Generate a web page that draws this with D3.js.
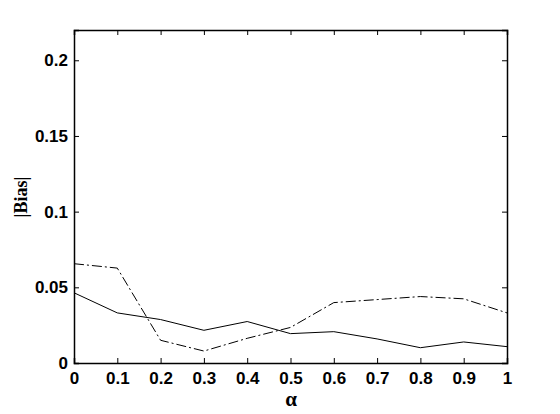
<!DOCTYPE html>
<html>
<head>
<meta charset="utf-8">
<script src="https://cdn.jsdelivr.net/npm/d3@7"></script>
<style>
  body { margin: 0; background: #fff; }
  .tick text { font-family: "Liberation Sans", Arial, sans-serif; font-weight: bold; font-size: 17px; }
</style>
</head>
<body>
<div class="content"></div>
<script>
var svgWidth = 560;
var svgHeight = 414;

// Data.
var alphas = [0, 0.1, 0.2, 0.3, 0.4, 0.5, 0.6, 0.7, 0.8, 0.9, 1];
var solidBias = [0.0464, 0.0331, 0.0287, 0.0216, 0.0274, 0.0194, 0.0207, 0.0159, 0.0101, 0.0139, 0.0108];
var dashBias = [0.0656, 0.0627, 0.0150, 0.0079, 0.0163, 0.0235, 0.0399, 0.0419, 0.0439, 0.0424, 0.0331];
var xTicks = [0, 0.1, 0.2, 0.3, 0.4, 0.5, 0.6, 0.7, 0.8, 0.9, 1];
var yTicks = [0, 0.05, 0.1, 0.15, 0.2];

var plot = {left: 74, right: 507, top: 30, bottom: 363};

var svg = d3.select(".content")
  .append("svg")
  .attr("width", svgWidth)
  .attr("height", svgHeight);

var x = d3.scaleLinear().domain([0, 1]).range([plot.left, plot.right]);
var y = d3.scaleLinear().domain([0, 0.22]).range([plot.bottom, plot.top]);

function fmt(d) { return d3.format("")(d).replace(/^0$/, "0"); }

// Bottom and left axes with labels, ticks pointing inward.
svg.append("g")
  .attr("transform", "translate(0," + plot.bottom + ")")
  .call(d3.axisBottom(x).tickValues(xTicks).tickSize(-5).tickPadding(9).tickFormat(fmt));
svg.append("g")
  .attr("transform", "translate(" + plot.left + ",0)")
  .call(d3.axisLeft(y).tickValues(yTicks).tickSize(-5).tickPadding(6).tickFormat(fmt));

// Top and right axes: ticks only.
svg.append("g")
  .attr("transform", "translate(0," + plot.top + ")")
  .call(d3.axisTop(x).tickValues(xTicks).tickSize(-5).tickFormat(""));
svg.append("g")
  .attr("transform", "translate(" + plot.right + ",0)")
  .call(d3.axisRight(y).tickValues(yTicks).tickSize(-5).tickFormat(""));

svg.selectAll(".domain").attr("stroke", "#000").attr("stroke-width", 1.5);
svg.selectAll(".tick line").attr("stroke", "#000");

var line = d3.line()
  .x(function(d, i) { return x(alphas[i]); })
  .y(function(d) { return y(d); });

svg.append("path")
  .datum(solidBias)
  .attr("fill", "none")
  .attr("stroke", "#000")
  .attr("stroke-width", 1)
  .attr("d", line);

svg.append("path")
  .datum(dashBias)
  .attr("fill", "none")
  .attr("stroke", "#000")
  .attr("stroke-width", 1)
  .attr("stroke-dasharray", "10,3,2,3")
  .attr("d", line);

// Axis titles.
svg.append("text")
  .attr("x", 291)
  .attr("y", 406)
  .attr("text-anchor", "middle")
  .attr("font-family", "'Liberation Serif', 'Times New Roman', serif")
  .attr("font-weight", "bold")
  .attr("font-size", 21)
  .text("α");

svg.append("text")
  .attr("transform", "translate(27,197) rotate(-90)")
  .attr("text-anchor", "middle")
  .attr("font-family", "'Liberation Serif', 'Times New Roman', serif")
  .attr("font-weight", "bold")
  .attr("font-size", 18)
  .text("|Bias|");
</script>
</body>
</html>
